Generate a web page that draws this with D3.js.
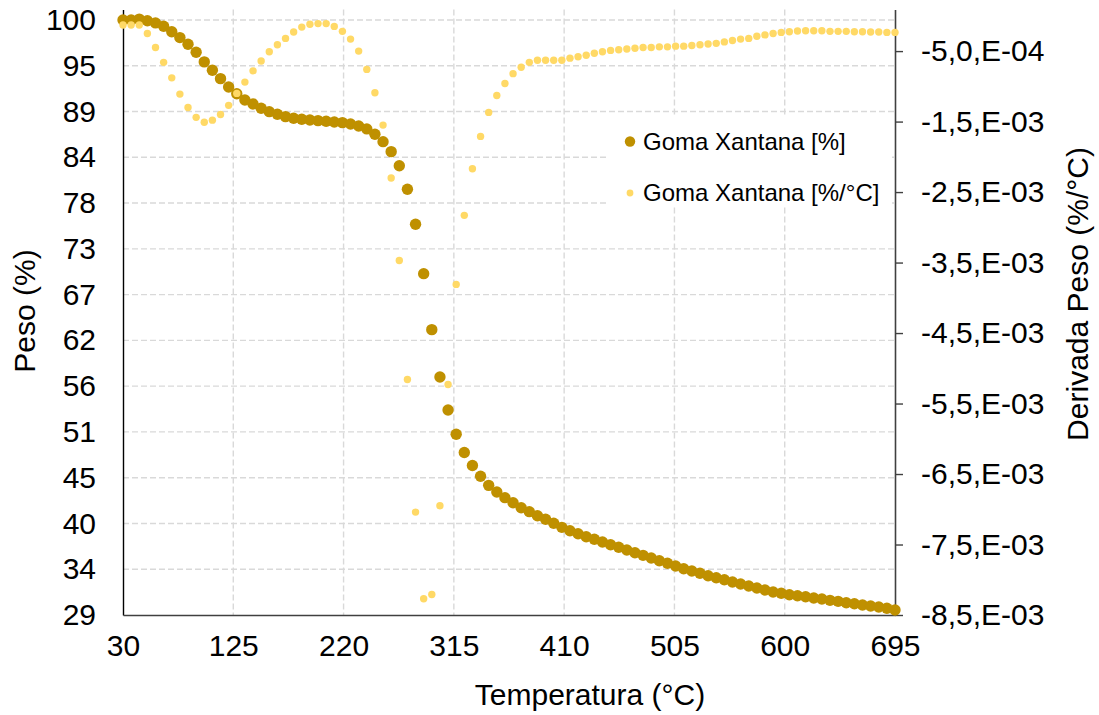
<!DOCTYPE html>
<html lang="es">
<head>
<meta charset="utf-8">
<title>Goma Xantana – TGA / DTG</title>
<script src="https://cdn.jsdelivr.net/npm/d3@7"></script>
<style>
  html, body { margin: 0; padding: 0; background: #fff; }
  svg { display: block; font-family: "Liberation Sans", Arial, sans-serif; }
</style>
</head>
<body>
<svg id="chart" width="1099" height="715"></svg>
<script>
// Temperatura (°C)
const temperatura = [
  30, 37, 44, 51, 58, 65, 72, 79, 86, 93,
  100, 107, 114, 121, 128, 135, 142, 149, 156, 163,
  170, 177, 184, 191, 198, 205, 212, 219, 226, 233,
  240, 247, 254, 261, 268, 275, 282, 289, 296, 303,
  310, 317, 324, 331, 338, 345, 352, 359, 366, 373,
  380, 387, 394, 401, 408, 415, 422, 429, 436, 443,
  450, 457, 464, 471, 478, 485, 492, 499, 506, 513,
  520, 527, 534, 541, 548, 555, 562, 569, 576, 583,
  590, 597, 604, 611, 618, 625, 632, 639, 646, 653,
  660, 667, 674, 681, 688, 695
];

// Goma Xantana [%] – masa residual
const peso = [
  100.0, 100.0, 100.1, 99.9, 99.65, 99.25, 98.6, 97.9, 97.1, 96.15,
  95.0, 94.0, 93.0, 92.0, 91.2, 90.45, 89.98, 89.46, 89.06, 88.75,
  88.47, 88.27, 88.15, 88.07, 87.99, 87.91, 87.83, 87.75, 87.59, 87.35,
  87.0, 86.36, 85.48, 84.29, 82.6, 79.8, 75.62, 69.73, 63.05, 57.4,
  53.46, 50.56, 48.39, 46.84, 45.55, 44.47, 43.68, 43.0, 42.4, 41.8,
  41.33, 40.85, 40.42, 39.94, 39.46, 39.06, 38.7, 38.34, 38.03, 37.71,
  37.39, 37.08, 36.76, 36.43, 36.12, 35.8, 35.48, 35.17, 34.85, 34.52,
  34.25, 33.98, 33.69, 33.45, 33.21, 32.94, 32.7, 32.46, 32.22, 31.98,
  31.75, 31.59, 31.42, 31.3, 31.18, 31.03, 30.91, 30.75, 30.63, 30.47,
  30.35, 30.19, 30.07, 29.95, 29.8, 29.6
];

// Goma Xantana [%/°C] – derivada, en unidades de 1E-03 %/°C
const derivada = [
  -0.13, -0.13, -0.13, -0.25, -0.45, -0.66, -0.88, -1.11, -1.30, -1.44,
  -1.51, -1.48, -1.40, -1.27, -1.10, -0.94, -0.78, -0.64, -0.51, -0.41,
  -0.32, -0.23, -0.16, -0.12, -0.11, -0.11, -0.15, -0.22, -0.33, -0.50,
  -0.76, -1.09, -1.55, -2.30, -3.47, -5.16, -7.04, -8.27, -8.21, -6.95,
  -5.23, -3.81, -2.83, -2.17, -1.71, -1.37, -1.13, -0.96, -0.82, -0.73,
  -0.66, -0.63, -0.63, -0.63, -0.63, -0.60, -0.58, -0.56, -0.53, -0.51,
  -0.49, -0.48, -0.47, -0.46, -0.45, -0.45, -0.44, -0.44, -0.43, -0.43,
  -0.42, -0.41, -0.40, -0.39, -0.37, -0.35, -0.33, -0.32, -0.29, -0.27,
  -0.25, -0.235, -0.226, -0.216, -0.212, -0.212, -0.212, -0.22, -0.22, -0.22,
  -0.226, -0.226, -0.23, -0.23, -0.235, -0.235
];

// Axis ticks
const xTicks = [30, 125, 220, 315, 410, 505, 600, 695];
const pesoMin = 29, pesoStepCount = 13, pesoTop = 100, pesoAxisMax = 101.25;
const derivTicks = [-8.5, -7.5, -6.5, -5.5, -4.5, -3.5, -2.5, -1.5, -0.5];
const derivAxisMax = 0.09;

const seriesNames = ["Goma Xantana [%]", "Goma Xantana [%/°C]"];
const colors = { peso: "#BF9000", deriv: "#FFD966" };

// Plot area
const plot = { left: 123, right: 895, top: 9.5, bottom: 615 };
const FONT = 30;

const svg = d3.select("#chart");

const x = d3.scaleLinear().domain([30, 695]).range([plot.left, plot.right]);
const yL = d3.scaleLinear().domain([pesoMin, pesoAxisMax]).range([plot.bottom, plot.top]);
const yR = d3.scaleLinear().domain([-8.5, derivAxisMax]).range([plot.bottom, plot.top]);

const pesoTicks = d3.range(pesoStepCount + 1).map(k => pesoMin + k * (pesoTop - pesoMin) / pesoStepCount);

// "-5,0,E-04" style labels
function sciComma(v) {
  const s = (v * 1e-3).toExponential(1);
  const m = s.match(/^(-?\d)\.(\d)e([+-])(\d+)$/);
  return `${m[1]},${m[2]},E${m[3]}${m[4].padStart(2, "0")}`;
}

// Grid
const grid = svg.append("g").attr("stroke", "#d9d9d9").attr("stroke-width", 1.4)
  .attr("stroke-dasharray", "6,3").attr("fill", "none");
grid.selectAll("line.h").data(pesoTicks.slice(1)).join("line").attr("class", "h")
  .attr("x1", plot.left).attr("x2", plot.right)
  .attr("y1", d => yL(d)).attr("y2", d => yL(d));
grid.selectAll("line.v").data(xTicks.slice(1, -1)).join("line").attr("class", "v")
  .attr("x1", d => x(d)).attr("x2", d => x(d))
  .attr("y1", plot.top).attr("y2", plot.bottom);

// Left axis (Peso)
const gL = svg.append("g").attr("transform", `translate(${plot.left},0)`)
  .call(d3.axisLeft(yL).tickValues(pesoTicks).tickFormat(d3.format(".0f")).tickSize(0).tickPadding(27));
gL.select(".domain").attr("stroke", "#000").attr("stroke-width", 1.4);
gL.selectAll("text").attr("font-size", FONT).attr("fill", "#000").attr("font-family", null);

// Bottom axis (Temperatura)
const gB = svg.append("g").attr("transform", `translate(0,${plot.bottom})`)
  .call(d3.axisBottom(x).tickValues(xTicks).tickSize(0).tickPadding(20));
gB.select(".domain").attr("stroke", "#404040").attr("stroke-width", 1.4);
gB.selectAll("text").attr("font-size", FONT).attr("fill", "#000").attr("font-family", null);

// Right axis (Derivada)
const gR = svg.append("g").attr("transform", `translate(${plot.right},0)`)
  .call(d3.axisRight(yR).tickValues(derivTicks).tickFormat(sciComma).tickSizeInner(8).tickSizeOuter(0).tickPadding(18));
gR.select(".domain").attr("stroke", "#404040").attr("stroke-width", 1.6);
gR.selectAll(".tick line").attr("stroke", "#404040").attr("stroke-width", 1.4);
gR.selectAll("text").attr("font-size", FONT).attr("fill", "#000").attr("font-family", null);

// Series: masa (%)
svg.append("g").selectAll("circle").data(temperatura).join("circle")
  .attr("cx", d => x(d)).attr("cy", (d, i) => yL(peso[i]))
  .attr("r", 5.7).attr("fill", colors.peso);

// Series: derivada (%/°C)
svg.append("g").selectAll("circle").data(temperatura).join("circle")
  .attr("cx", d => x(d)).attr("cy", (d, i) => yR(derivada[i]))
  .attr("r", 3.7).attr("fill", colors.deriv);

// Legend
const lg = svg.append("g");
lg.append("rect").attr("x", 607).attr("y", 116).attr("width", 285).attr("height", 91).attr("fill", "#fff");
const legendItems = [
  { name: seriesNames[0], color: colors.peso, r: 5.2, y: 141.5 },
  { name: seriesNames[1], color: colors.deriv, r: 3.4, y: 193 }
];
const li = lg.selectAll("g.item").data(legendItems).join("g").attr("class", "item")
  .attr("transform", d => `translate(630,${d.y})`);
li.append("circle").attr("r", d => d.r).attr("fill", d => d.color);
li.append("text").attr("x", 13).attr("dy", "0.35em").attr("font-size", 24).attr("fill", "#000")
  .text(d => d.name);

// Axis titles
svg.append("text").attr("x", 590).attr("y", 705).attr("text-anchor", "middle")
  .attr("font-size", FONT).attr("fill", "#000").text("Temperatura (°C)");
svg.append("text").attr("transform", "translate(35,311) rotate(-90)").attr("text-anchor", "middle")
  .attr("font-size", FONT).attr("fill", "#000").text("Peso (%)");
svg.append("text").attr("transform", "translate(1088,294) rotate(-90)").attr("text-anchor", "middle")
  .attr("font-size", FONT).attr("fill", "#000").text("Derivada Peso (%/°C)");
</script>
</body>
</html>
